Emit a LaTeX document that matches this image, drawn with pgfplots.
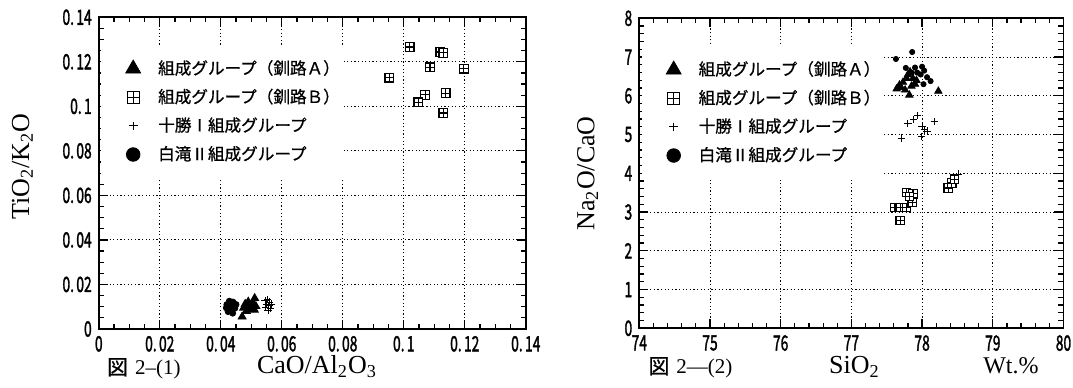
\documentclass[border=0pt]{standalone}
\usepackage{fontspec}
\setmainfont{Liberation Serif}
\newfontfamily\cjk{Noto Sans CJK JP}[FakeBold=0.8]
\newfontfamily\tickf{Noto Sans CJK JP}[FakeBold=2]
\usepackage{graphicx}
\usepackage{pgfplots}
\pgfplotsset{compat=1.18}
\newcommand{\tk}[1]{\scalebox{0.66}[1]{#1}}

\pgfdeclareplotmark{boxplus}{%
  \pgfpathrectangle{\pgfqpoint{-\pgfplotmarksize}{-\pgfplotmarksize}}{\pgfqpoint{2\pgfplotmarksize}{2\pgfplotmarksize}}%
  \pgfusepathqfillstroke
  \pgfpathmoveto{\pgfqpoint{-\pgfplotmarksize}{0pt}}\pgfpathlineto{\pgfqpoint{\pgfplotmarksize}{0pt}}%
  \pgfpathmoveto{\pgfqpoint{0pt}{-\pgfplotmarksize}}\pgfpathlineto{\pgfqpoint{0pt}{\pgfplotmarksize}}%
  \pgfusepathqstroke
}

\pgfplotsset{
  leg/.style={legend image code/.code={\draw[##1,mark size=#1] plot coordinates {(14pt,0pt)};\path[draw=none,fill=none] (0pt,-5pt) (26.5pt,5pt);}},
  chem/.style={
    scale only axis,
    clip mode=individual,
    axis line style={line width=0.9pt},
    every tick/.style={black, line width=0.6pt},
    major tick length=4.5pt, minor tick length=2.5pt,
    tick align=inside,
    grid=major,
    major grid style={black, line width=0.5pt, dash pattern=on 0.6pt off 1.2pt},
    tick label style={font=\tickf\fontsize{10.5}{10.5}\selectfont},
    label style={font=\fontsize{13}{14}\selectfont},
    legend style={draw=none, fill=white, inner xsep=2pt, inner ysep=7pt, row sep=4.3pt,
       font=\cjk\fontsize{8.3}{9}\selectfont, nodes={inner sep=0pt},
       at={(axis description cs:0,1)}, anchor=north west, xshift=1pt, yshift=-13.5pt},
    legend cell align=left,
  }
}

\begin{document}
\begin{tikzpicture}
\useasboundingbox (0,0) rectangle (536.5pt,193.5pt);

% ---------- left plot ----------
\begin{axis}[chem,
  at={(49.4pt,29pt)}, anchor=south west,
  width=213.5pt, height=155.85pt,
  xmin=0, xmax=0.14, ymin=0, ymax=0.14,
  xtick={0,0.02,0.04,0.06,0.08,0.1,0.12,0.14},
  xticklabels={{\tk{0}},{\tk{0.\,02}},{\tk{0.\,04}},{\tk{0.\,06}},{\tk{0.\,08}},{\tk{0.\,1}},{\tk{0.\,12}},{\tk{0.\,14}}},
  ytick={0,0.02,0.04,0.06,0.08,0.1,0.12,0.14},
  yticklabels={{\tk{0}},{\tk{0.\,02}},{\tk{0.\,04}},{\tk{0.\,06}},{\tk{0.\,08}},{\tk{0.\,1}},{\tk{0.\,12}},{\tk{0.\,14}}},
  minor x tick num=3, minor y tick num=3,
  scaled ticks=false,
  ylabel={TiO\textsubscript{2}/K\textsubscript{2}O},
  ylabel style={at={(axis description cs:-0.179,0.52)}, anchor=center},
  xlabel={CaO/Al\textsubscript{2}O\textsubscript{3}},
  xlabel style={at={(axis description cs:0.511,-0.144)}, anchor=base},
]
\addplot[only marks, mark=triangle*, mark size=2.3pt, black, leg=4.3pt]
 coordinates {(0.0470,0.0055)(0.0475,0.0095)(0.0480,0.0112)(0.0486,0.0100)(0.0490,0.0122)(0.0494,0.0088)(0.0500,0.0106)(0.0505,0.0116)(0.0511,0.0138)(0.0515,0.0102)(0.0510,0.0086)(0.0484,0.0080)};
\addlegendentry{組成グループ（釧路Ａ）}
\addplot[only marks, mark=boxplus, mark size=2.2pt, black, mark options={fill=white, line width=0.6pt}, leg=3pt]
 coordinates {(0.1019,0.1267)(0.1120,0.1244)(0.1130,0.1241)(0.1086,0.1175)(0.1197,0.1170)(0.0953,0.1129)(0.1070,0.1052)(0.1048,0.1018)(0.1137,0.1059)(0.1130,0.0970)};
\addlegendentry{組成グループ（釧路Ｂ）}
\addplot[only marks, mark=+, mark size=1.8pt, black, mark options={line width=0.5pt}, leg=2.2pt]
 coordinates {(0.0545,0.0126)(0.0553,0.0131)(0.0560,0.0121)(0.0549,0.0111)(0.0558,0.0106)(0.0547,0.0096)(0.0562,0.0091)(0.0555,0.0082)(0.0566,0.0112)};
\addlegendentry{十勝Ⅰ組成グループ}
\addplot[only marks, mark=*, mark size=1.5pt, black, leg=3.4pt]
 coordinates {(0.0428,0.0125)(0.0440,0.0121)(0.0420,0.0110)(0.0436,0.0101)(0.0446,0.0093)(0.0431,0.0085)(0.0424,0.0078)(0.0439,0.0071)(0.0450,0.0110)(0.0418,0.0095)};
\addlegendentry{白滝Ⅱ組成グループ}
\node[anchor=base west, font=\fontsize{10.5}{12}\selectfont] at (axis description cs:0.003,-0.147) {{\cjk 図}\,\,2–(1)};
\end{axis}

% ---------- right plot ----------
\begin{axis}[chem,
  at={(319.65pt,29.35pt)}, anchor=south west,
  width=212.1pt, height=155pt,
  xmin=74, xmax=80, ymin=0, ymax=8,
  xtick={74,75,76,77,78,79,80},
  xticklabels={{\tk{74}},{\tk{75}},{\tk{76}},{\tk{77}},{\tk{78}},{\tk{79}},{\tk{80}}},
  ytick={0,1,2,3,4,5,6,7,8},
  yticklabels={{\tk{0}},{\tk{1}},{\tk{2}},{\tk{3}},{\tk{4}},{\tk{5}},{\tk{6}},{\tk{7}},{\tk{8}}},
  minor x tick num=4, minor y tick num=4,
  ylabel={Na\textsubscript{2}O/CaO},
  ylabel style={at={(axis description cs:-0.122,0.5)}, anchor=center},
  xlabel={SiO\textsubscript{2}},
  xlabel style={at={(axis description cs:0.507,-0.147)}, anchor=base},
]
\addplot[only marks, mark=triangle*, mark size=2.1pt, black, leg=4.3pt]
 coordinates {(77.64,6.18)(77.70,6.22)(77.73,6.35)(77.78,6.45)(77.80,6.55)(77.83,6.62)(77.87,6.45)(77.85,6.25)(77.82,6.02)(77.90,6.30)(77.76,6.15)(77.68,6.28)(78.23,6.12)(77.92,6.40)};
\addlegendentry{組成グループ（釧路Ａ）}
\addplot[only marks, mark=boxplus, mark size=2.1pt, black, mark options={fill=white, line width=0.6pt}, leg=3pt]
 coordinates {(77.61,3.12)(77.69,3.12)(77.78,3.12)(77.69,2.78)(77.78,3.50)(77.87,3.47)(77.86,3.25)(77.82,3.40)(78.37,3.62)(78.42,3.75)(78.46,3.85)};
\addlegendentry{組成グループ（釧路Ｂ）}
\addplot[only marks, mark=+, mark size=1.8pt, black, mark options={line width=0.5pt}, leg=2.2pt]
 coordinates {(77.71,4.91)(77.80,5.28)(77.88,5.38)(77.94,5.49)(78.00,5.20)(78.07,5.09)(78.17,5.33)(77.99,4.95)(78.03,5.12)(78.52,3.98)};
\addlegendentry{十勝Ⅰ組成グループ}
\addplot[only marks, mark=*, mark size=1.3pt, black, leg=3.4pt]
 coordinates {(77.63,6.95)(77.86,7.13)(77.77,6.72)(77.90,6.73)(78.00,6.75)(77.98,6.55)(78.07,6.48)(78.12,6.38)(78.02,6.30)(77.93,6.60)(77.85,6.60)(78.03,6.65)};
\addlegendentry{白滝Ⅱ組成グループ}
\node[anchor=base west, font=\fontsize{10.5}{12}\selectfont] at (axis description cs:0.005,-0.147) {{\cjk 図}\,\,2—(2)};
\node[anchor=base east, font=\fontsize{12}{14}\selectfont] at (axis description cs:0.958,-0.147) {Wt.\%};
\end{axis}
\end{tikzpicture}
\end{document}
